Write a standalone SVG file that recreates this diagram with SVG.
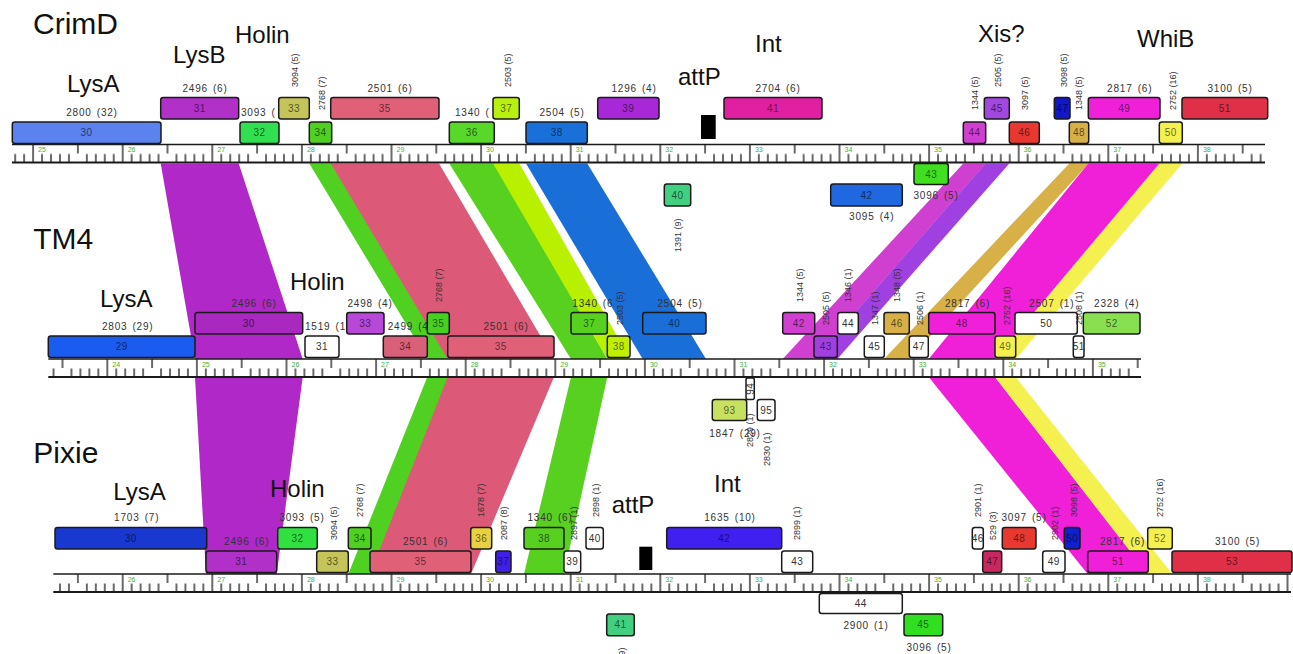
<svg xmlns="http://www.w3.org/2000/svg" width="1293" height="654" viewBox="0 0 1293 654">
<style>
text{font-family:"Liberation Sans",Arial,Helvetica,sans-serif}
.title{font-size:30px;fill:#111}
.big{font-size:24px;fill:#111}
.lab{font-size:10px;fill:#333;letter-spacing:0.8px;word-spacing:1.5px;text-anchor:middle}
.labs{font-size:10px;fill:#333;letter-spacing:0.8px;word-spacing:1.5px}
.vl{font-size:9px;fill:#333}
.gn{font-size:10px;fill:#000;fill-opacity:0.6;text-anchor:middle;letter-spacing:0.4px}
.gnw{font-size:10px;fill:#333;text-anchor:middle;letter-spacing:0.4px}
.kb{font-size:7px;fill:#3bb03b}
.box{stroke:#1a1a1a;stroke-width:1.5}
.rl{stroke:#1a1a1a;fill:none}
.band{stroke:none}
</style>
<defs>
<pattern id="tk" patternUnits="userSpaceOnUse" x="-1" y="0" width="89.6" height="18">
<path d="M1 0V18M45.8 0V9M9.96 9.5V18M18.92 9.5V18M27.88 9.5V18M36.84 9.5V18M54.76 9.5V18M63.72 9.5V18M72.68 9.5V18M81.64 9.5V18" stroke="#1a1a1a" stroke-width="1.3" fill="none"/>
</pattern>
</defs>
<rect width="1293" height="654" fill="#fff"/>

<g id="connectors">
<polygon class="band" fill="#b028c8" points="160.7,163.5 238.7,163.5 302.7,359 195,359"/>
<polygon class="band" fill="#50d020" points="309.3,163.5 331.7,163.5 449.3,359 427.3,359"/>
<polygon class="band" fill="#dc5a78" points="330.7,163.5 439,163.5 554,359 447.7,359"/>
<polygon class="band" fill="#58d020" points="449.3,163.5 494.3,163.5 607.3,359 571,359"/>
<polygon class="band" fill="#b8f000" points="493,163.5 519.3,163.5 630,359 607.3,359"/>
<polygon class="band" fill="#1a6ed8" points="526,163.5 587.3,163.5 706,359 642.7,359"/>
<polygon class="band" fill="#d040d0" points="963.3,163.5 985.7,163.5 814.7,359 782.7,359"/>
<polygon class="band" fill="#a040e0" stroke="#fff" stroke-width="1" points="985.5,163.5 1009.3,163.5 837.3,359 814.5,359"/>
<polygon class="band" fill="#d8b048" points="1069.3,163.5 1088.7,163.5 909.3,359 884,359"/>
<polygon class="band" fill="#f020d8" points="1088.3,163.5 1160,163.5 995,359 928.7,359"/>
<polygon class="band" fill="#f4f050" points="1159.3,163.5 1182.3,163.5 1015.7,359 995,359"/>
<polygon class="band" fill="#b028c8" points="195,377 302.7,377 276.7,574 206,574"/>
<polygon class="band" fill="#50d020" points="427.3,377 449.3,377 371,574 348.3,574"/>
<polygon class="band" fill="#dc5a78" points="447.7,377 554,377 471,574 370,574"/>
<polygon class="band" fill="#58d020" points="571,377 607.3,377 564,574 524,574"/>
<polygon class="band" fill="#f020d8" points="928.7,377 995,377 1148.3,574 1087.7,574"/>
<polygon class="band" fill="#f4f050" points="995,377 1015.7,377 1172.3,574 1147.7,574"/>
</g>

<g id="crimd-ruler" transform="translate(122.7,144.5)">
<rect x="-110.7" y="0" width="1253" height="18" fill="#fff"/>
<rect x="-110.7" y="0" width="1253" height="18" fill="url(#tk)"/>
<line class="rl" x1="-110.7" y1="0" x2="1142.3" y2="0" stroke-width="1.5"/>
<line class="rl" x1="-110.7" y1="18" x2="1142.3" y2="18" stroke-width="2"/>
<text class="kb" x="-84.6" y="7.5">25</text><text class="kb" x="5" y="7.5">26</text><text class="kb" x="94.6" y="7.5">27</text><text class="kb" x="184.2" y="7.5">28</text><text class="kb" x="273.8" y="7.5">29</text><text class="kb" x="363.4" y="7.5">30</text><text class="kb" x="453" y="7.5">31</text><text class="kb" x="542.6" y="7.5">32</text><text class="kb" x="632.2" y="7.5">33</text><text class="kb" x="721.8" y="7.5">34</text><text class="kb" x="811.4" y="7.5">35</text><text class="kb" x="901" y="7.5">36</text><text class="kb" x="990.6" y="7.5">37</text><text class="kb" x="1080.2" y="7.5">38</text>
</g>

<g id="tm4-ruler" transform="translate(107.3,359)">
<rect x="-59" y="0" width="1092.7" height="18" fill="#fff"/>
<rect x="-59" y="0" width="1092.7" height="18" fill="url(#tk)"/>
<line class="rl" x1="-59" y1="0" x2="1033.7" y2="0" stroke-width="1.5"/>
<line class="rl" x1="-59" y1="18" x2="1033.7" y2="18" stroke-width="2"/>
<text class="kb" x="5" y="7.5">24</text><text class="kb" x="94.6" y="7.5">25</text><text class="kb" x="184.2" y="7.5">26</text><text class="kb" x="273.8" y="7.5">27</text><text class="kb" x="363.4" y="7.5">28</text><text class="kb" x="453" y="7.5">29</text><text class="kb" x="542.6" y="7.5">30</text><text class="kb" x="632.2" y="7.5">31</text><text class="kb" x="721.8" y="7.5">32</text><text class="kb" x="811.4" y="7.5">33</text><text class="kb" x="901" y="7.5">34</text><text class="kb" x="990.6" y="7.5">35</text>
</g>

<g id="pixie-ruler" transform="translate(122.7,574)">
<rect x="-69.4" y="0" width="1237.7" height="18" fill="#fff"/>
<rect x="-69.4" y="0" width="1237.7" height="18" fill="url(#tk)"/>
<line class="rl" x1="-69.4" y1="0" x2="1168.3" y2="0" stroke-width="1.5"/>
<line class="rl" x1="-69.4" y1="18" x2="1168.3" y2="18" stroke-width="2"/>
<text class="kb" x="5" y="7.5">26</text><text class="kb" x="94.6" y="7.5">27</text><text class="kb" x="184.2" y="7.5">28</text><text class="kb" x="273.8" y="7.5">29</text><text class="kb" x="363.4" y="7.5">30</text><text class="kb" x="453" y="7.5">31</text><text class="kb" x="542.6" y="7.5">32</text><text class="kb" x="632.2" y="7.5">33</text><text class="kb" x="721.8" y="7.5">34</text><text class="kb" x="811.4" y="7.5">35</text><text class="kb" x="901" y="7.5">36</text><text class="kb" x="990.6" y="7.5">37</text><text class="kb" x="1080.2" y="7.5">38</text>
</g>

<!-- CrimD -->
<g id="crimd-titles">
<text class="title" x="33" y="34.3">CrimD</text>
<text class="big" x="67" y="91.5">LysA</text>
<text class="big" x="173" y="63.3">LysB</text>
<text class="big" x="235" y="43.3">Holin</text>
<text class="big" x="678" y="85">attP</text>
<text class="big" x="755" y="52.3">Int</text>
<text class="big" x="978" y="42.3">Xis?</text>
<text class="big" x="1137" y="46.7">WhiB</text>
</g>
<g id="crimd-attP"><rect x="701" y="115" width="14.7" height="24" fill="#000"/></g>
<g id="crimd-30"><rect class="box" x="12.3" y="122" width="148.7" height="21.5" rx="2.5" fill="#5b82ee"/><text class="gn" x="86.5" y="136.2">30</text><text class="lab" x="92" y="115.5">2800 (32)</text></g>
<g id="crimd-31"><rect class="box" x="160.7" y="97.5" width="78" height="21.5" rx="2.5" fill="#b030c8"/><text class="gn" x="199.7" y="111.7">31</text><text class="lab" x="205" y="91.5">2496 (6)</text></g>
<g id="crimd-32"><text class="labs" x="241" y="115.5">3093 (</text><rect class="box" x="240" y="122" width="39" height="21.5" rx="2.5" fill="#30e050"/><text class="gn" x="259.5" y="136.2">32</text></g>
<g id="crimd-33"><rect class="box" x="278.7" y="97.5" width="30.6" height="21.5" rx="2.5" fill="#c4c45a"/><text class="gn" x="294" y="111.7">33</text><text class="vl" transform="translate(298.3,87) rotate(-90)">3094 (5)</text></g>
<g id="crimd-34"><rect class="box" x="309.3" y="122" width="22.4" height="21.5" rx="2.5" fill="#50d020"/><text class="gn" x="320.5" y="136.2">34</text><text class="vl" transform="translate(325,110) rotate(-90)">2768 (7)</text></g>
<g id="crimd-35"><rect class="box" x="330.7" y="97.5" width="108.3" height="21.5" rx="2.5" fill="#e06078"/><text class="gn" x="384.8" y="111.7">35</text><text class="lab" x="390" y="91.5">2501 (6)</text></g>
<g id="crimd-36"><text class="labs" x="455" y="115.5">1340 (</text><rect class="box" x="449.3" y="122" width="45" height="21.5" rx="2.5" fill="#58d828"/><text class="gn" x="471.8" y="136.2">36</text></g>
<g id="crimd-37"><rect class="box" x="493" y="97.5" width="26.3" height="21.5" rx="2.5" fill="#b8f010"/><text class="gn" x="506.2" y="111.7">37</text><text class="vl" transform="translate(511,87) rotate(-90)">2503 (5)</text></g>
<g id="crimd-38"><rect class="box" x="526" y="122" width="61.3" height="21.5" rx="2.5" fill="#1870d8"/><text class="gn" x="556.7" y="136.2">38</text><text class="lab" x="562" y="115.5">2504 (5)</text></g>
<g id="crimd-39"><rect class="box" x="597.7" y="97.5" width="61.3" height="21.5" rx="2.5" fill="#a828d8"/><text class="gn" x="628.3" y="111.7">39</text><text class="lab" x="634" y="91.5">1296 (4)</text></g>
<g id="crimd-40"><rect class="box" x="664.3" y="184" width="26.4" height="22" rx="2.5" fill="#40d080"/><text class="gn" x="677.5" y="198.5">40</text><text class="vl" transform="translate(681.3,252) rotate(-90)">1391 (9)</text></g>
<g id="crimd-41"><rect class="box" x="724" y="97.5" width="98" height="21.5" rx="2.5" fill="#e020a0"/><text class="gn" x="773" y="111.7">41</text><text class="lab" x="778" y="91.5">2704 (6)</text></g>
<g id="crimd-42"><rect class="box" x="830.7" y="184" width="71.6" height="22" rx="2.5" fill="#2068e0"/><text class="gn" x="866.5" y="198.5">42</text><text class="lab" x="871.7" y="220">3095 (4)</text></g>
<g id="crimd-43"><rect class="box" x="914" y="163.5" width="34.3" height="21" rx="2.5" fill="#40e020"/><text class="gn" x="931.2" y="177.5">43</text><text class="lab" x="936" y="199">3096 (5)</text></g>
<g id="crimd-44"><rect class="box" x="963.3" y="122" width="22.4" height="21.5" rx="2.5" fill="#d040d0"/><text class="gn" x="974.5" y="136.2">44</text><text class="vl" transform="translate(978.3,110) rotate(-90)">1344 (5)</text></g>
<g id="crimd-45"><rect class="box" x="984.3" y="97.5" width="25" height="21.5" rx="2.5" fill="#a048e0"/><text class="gn" x="996.8" y="111.7">45</text><text class="vl" transform="translate(1001.3,87) rotate(-90)">2505 (5)</text></g>
<g id="crimd-46"><rect class="box" x="1009.3" y="122" width="30" height="21.5" rx="2.5" fill="#e83830"/><text class="gn" x="1024.3" y="136.2">46</text><text class="vl" transform="translate(1028.3,110) rotate(-90)">3097 (5)</text></g>
<g id="crimd-47"><rect class="box" x="1054.3" y="97.5" width="15.7" height="21.5" rx="2.5" fill="#1018c8"/><text class="gn" x="1062.2" y="111.7">47</text><text class="vl" transform="translate(1067.3,87) rotate(-90)">3098 (5)</text></g>
<g id="crimd-48"><rect class="box" x="1069.3" y="122" width="19.4" height="21.5" rx="2.5" fill="#d8b048"/><text class="gn" x="1079" y="136.2">48</text><text class="vl" transform="translate(1082.3,110) rotate(-90)">1348 (5)</text></g>
<g id="crimd-49"><rect class="box" x="1088.3" y="97.5" width="71.7" height="21.5" rx="2.5" fill="#f020d8"/><text class="gn" x="1124.2" y="111.7">49</text><text class="lab" x="1129.7" y="91.5">2817 (6)</text></g>
<g id="crimd-50"><rect class="box" x="1159.3" y="122" width="23" height="21.5" rx="2.5" fill="#f4f050"/><text class="gn" x="1170.8" y="136.2">50</text><text class="vl" transform="translate(1176.3,110) rotate(-90)">2752 (16)</text></g>
<g id="crimd-51"><rect class="box" x="1182" y="97.5" width="85.7" height="21.5" rx="2.5" fill="#e03048"/><text class="gn" x="1224.8" y="111.7">51</text><text class="lab" x="1230" y="91.5">3100 (5)</text></g>

<!-- TM4 -->
<g id="tm4-titles">
<text class="title" x="33.3" y="249">TM4</text>
<text class="big" x="100" y="306.7">LysA</text>
<text class="big" x="290" y="290">Holin</text>
</g>
<g id="tm4-29"><rect class="box" x="48.3" y="336" width="146.7" height="21.5" rx="2.5" fill="#1a5cf0"/><text class="gn" x="121.7" y="350.2">29</text><text class="lab" x="127.7" y="330">2803 (29)</text></g>
<g id="tm4-30"><rect class="box" x="195" y="312.5" width="107.7" height="21.5" rx="2.5" fill="#a828c0"/><text class="gn" x="248.8" y="326.7">30</text><text class="lab" x="254" y="306.5">2496 (6)</text></g>
<g id="tm4-31"><text class="labs" x="305" y="330">1519 (1</text><rect class="box" x="305" y="336" width="34" height="21.5" rx="2.5" fill="#fff"/><text class="gnw" x="322" y="350.2">31</text></g>
<g id="tm4-33"><rect class="box" x="346.7" y="312.5" width="37.3" height="21.5" rx="2.5" fill="#b848d8"/><text class="gn" x="365.3" y="326.7">33</text><text class="lab" x="370" y="306.5">2498 (4)</text></g>
<g id="tm4-34"><text class="labs" x="387.7" y="330">2499 (4</text><rect class="box" x="383.3" y="336" width="44" height="21.5" rx="2.5" fill="#d86078"/><text class="gn" x="405.3" y="350.2">34</text></g>
<g id="tm4-35a"><rect class="box" x="427.3" y="312.5" width="22" height="21.5" rx="2.5" fill="#48d020"/><text class="gn" x="438.3" y="326.7">35</text><text class="vl" transform="translate(441.6,302) rotate(-90)">2768 (7)</text></g>
<g id="tm4-35b"><rect class="box" x="447.7" y="336" width="106.3" height="21.5" rx="2.5" fill="#e06078"/><text class="gn" x="500.8" y="350.2">35</text><text class="lab" x="506" y="330">2501 (6)</text></g>
<g id="tm4-37"><text class="labs" x="572.3" y="306.5">1340 (6</text><rect class="box" x="571" y="312.5" width="36.3" height="21.5" rx="2.5" fill="#58d020"/><text class="gn" x="589.2" y="326.7">37</text></g>
<g id="tm4-38"><rect class="box" x="607.3" y="336" width="22.7" height="21.5" rx="2.5" fill="#c0f000"/><text class="gn" x="618.7" y="350.2">38</text><text class="vl" transform="translate(623.3,325) rotate(-90)">2503 (5)</text></g>
<g id="tm4-40"><rect class="box" x="642.7" y="312.5" width="63.3" height="21.5" rx="2.5" fill="#1a6ed8"/><text class="gn" x="674.3" y="326.7">40</text><text class="lab" x="680" y="306.5">2504 (5)</text></g>
<g id="tm4-42"><rect class="box" x="782.7" y="312.5" width="32" height="21.5" rx="2.5" fill="#d040d0"/><text class="gn" x="798.7" y="326.7">42</text><text class="vl" transform="translate(802.6,302) rotate(-90)">1344 (5)</text></g>
<g id="tm4-43"><rect class="box" x="814" y="336" width="23.3" height="21.5" rx="2.5" fill="#a040e0"/><text class="gn" x="825.7" y="350.2">43</text><text class="vl" transform="translate(829,325) rotate(-90)">2505 (5)</text></g>
<g id="tm4-44"><rect class="box" x="837.7" y="312.5" width="20.6" height="21.5" rx="2.5" fill="#fff"/><text class="gnw" x="848" y="326.7">44</text><text class="vl" transform="translate(850.6,302) rotate(-90)">1346 (1)</text></g>
<g id="tm4-45"><rect class="box" x="864.3" y="336" width="20" height="21.5" rx="2.5" fill="#fff"/><text class="gnw" x="874.3" y="350.2">45</text><text class="vl" transform="translate(878.3,325) rotate(-90)">1347 (1)</text></g>
<g id="tm4-46"><rect class="box" x="884" y="312.5" width="25.3" height="21.5" rx="2.5" fill="#d8b048"/><text class="gn" x="896.7" y="326.7">46</text><text class="vl" transform="translate(900,302) rotate(-90)">1348 (5)</text></g>
<g id="tm4-47"><rect class="box" x="909.3" y="336" width="19" height="21.5" rx="2.5" fill="#fff"/><text class="gnw" x="918.8" y="350.2">47</text><text class="vl" transform="translate(923.3,325) rotate(-90)">2506 (1)</text></g>
<g id="tm4-48"><rect class="box" x="928.7" y="312.5" width="66.3" height="21.5" rx="2.5" fill="#f020d8"/><text class="gn" x="961.8" y="326.7">48</text><text class="lab" x="967.5" y="306.5">2817 (6)</text></g>
<g id="tm4-49"><rect class="box" x="995" y="336" width="20.7" height="21.5" rx="2.5" fill="#f4f050"/><text class="gn" x="1005.3" y="350.2">49</text><text class="vl" transform="translate(1010,325) rotate(-90)">2752 (16)</text></g>
<g id="tm4-50"><rect class="box" x="1015" y="312.5" width="62.3" height="21.5" rx="2.5" fill="#fff"/><text class="gnw" x="1046.2" y="326.7">50</text><text class="lab" x="1051.7" y="306.5">2507 (1)</text></g>
<g id="tm4-51"><rect class="box" x="1073.3" y="336" width="10.7" height="21.5" rx="2.5" fill="#fff"/><text class="gnw" x="1078.7" y="350.2" letter-spacing="-0.5">51</text><text class="vl" transform="translate(1081.6,325) rotate(-90)">2508 (1)</text></g>
<g id="tm4-52"><rect class="box" x="1083.3" y="312.5" width="56.7" height="21.5" rx="2.5" fill="#88e050"/><text class="gn" x="1111.7" y="326.7">52</text><text class="lab" x="1116.7" y="306.5">2328 (4)</text></g>
<g id="tm4-94"><rect class="box" x="746" y="378" width="8.3" height="21.5" rx="2" fill="#fff"/><text class="gnw" transform="translate(753.5,388.7) rotate(-90)" font-size="8">94</text></g>
<g id="tm4-93"><rect class="box" x="712.3" y="399.5" width="34.4" height="21" rx="2.5" fill="#c8e060"/><text class="gn" x="729.5" y="413.5">93</text><text class="lab" x="735" y="436.5">1847 (29)</text></g>
<g id="tm4-95"><rect class="box" x="757.3" y="399.5" width="17.7" height="21" rx="2.5" fill="#fff"/><text class="gnw" x="766.2" y="413.5">95</text></g>
<g id="tm4-vlabels"><text class="vl" transform="translate(753.3,447) rotate(-90)">2829 (1)</text><text class="vl" transform="translate(770.3,466) rotate(-90)">2830 (1)</text></g>

<!-- Pixie -->
<g id="pixie-titles">
<text class="title" x="33.3" y="463.3">Pixie</text>
<text class="big" x="113.3" y="500">LysA</text>
<text class="big" x="270" y="496.7">Holin</text>
<text class="big" x="611.7" y="513.3">attP</text>
<text class="big" x="714" y="491.7">Int</text>
</g>
<g id="pixie-attP"><rect x="639.3" y="546.7" width="13" height="23.3" fill="#000"/></g>
<g id="pixie-30"><rect class="box" x="55" y="527.5" width="151.7" height="21.5" rx="2.5" fill="#1838d0"/><text class="gn" x="130.8" y="541.7">30</text><text class="lab" x="136.7" y="520.5">1703 (7)</text></g>
<g id="pixie-31"><rect class="box" x="206" y="551" width="70.7" height="21.5" rx="2.5" fill="#b030c8"/><text class="gn" x="241.3" y="565.2">31</text><text class="lab" x="246.7" y="545">2496 (6)</text></g>
<g id="pixie-32"><rect class="box" x="277.7" y="527.5" width="39.6" height="21.5" rx="2.5" fill="#30e040"/><text class="gn" x="297.5" y="541.7">32</text><text class="lab" x="302" y="520.5">3093 (5)</text></g>
<g id="pixie-33"><rect class="box" x="316.7" y="551" width="31.6" height="21.5" rx="2.5" fill="#c4c45a"/><text class="gn" x="332.5" y="565.2">33</text><text class="vl" transform="translate(337.3,540) rotate(-90)">3094 (5)</text></g>
<g id="pixie-34"><rect class="box" x="348.3" y="527.5" width="22.7" height="21.5" rx="2.5" fill="#50d020"/><text class="gn" x="359.7" y="541.7">34</text><text class="vl" transform="translate(362.6,517) rotate(-90)">2768 (7)</text></g>
<g id="pixie-35"><rect class="box" x="370" y="551" width="101" height="21.5" rx="2.5" fill="#e06078"/><text class="gn" x="420.5" y="565.2">35</text><text class="lab" x="425.5" y="545">2501 (6)</text></g>
<g id="pixie-36"><rect class="box" x="470.7" y="527.5" width="21" height="21.5" rx="2.5" fill="#e8d040"/><text class="gn" x="481.2" y="541.7">36</text><text class="vl" transform="translate(484.3,517) rotate(-90)">1678 (7)</text></g>
<g id="pixie-37"><rect class="box" x="495.7" y="551" width="15.3" height="21.5" rx="2.5" fill="#4020e8"/><text class="gn" x="503.3" y="565.2">37</text><text class="vl" transform="translate(506.6,540) rotate(-90)">2087 (8)</text></g>
<g id="pixie-38"><rect class="box" x="524" y="527.5" width="40" height="21.5" rx="2.5" fill="#58d020"/><text class="gn" x="544" y="541.7">38</text><text class="lab" x="550" y="520.5">1340 (6)</text></g>
<g id="pixie-39"><rect class="box" x="564" y="551" width="16.7" height="21.5" rx="2.5" fill="#fff"/><text class="gnw" x="572.3" y="565.2">39</text><text class="vl" transform="translate(576.6,540) rotate(-90)">2897 (1)</text></g>
<g id="pixie-40"><rect class="box" x="586" y="527.5" width="17.3" height="21.5" rx="2.5" fill="#fff"/><text class="gnw" x="594.7" y="541.7">40</text><text class="vl" transform="translate(599,517) rotate(-90)">2898 (1)</text></g>
<g id="pixie-41"><rect class="box" x="606.7" y="614" width="27.6" height="21.7" rx="2.5" fill="#40d080"/><text class="gn" x="620.5" y="628.3">41</text><text class="vl" transform="translate(625.3,681) rotate(-90)">1391 (9)</text></g>
<g id="pixie-42"><rect class="box" x="666.7" y="527.5" width="115" height="21.5" rx="2.5" fill="#4020f0"/><text class="gn" x="724.2" y="541.7">42</text><text class="lab" x="730" y="520.5">1635 (10)</text></g>
<g id="pixie-43"><rect class="box" x="781.7" y="551" width="31" height="21.5" rx="2.5" fill="#fff"/><text class="gnw" x="797.2" y="565.2">43</text><text class="vl" transform="translate(800,540) rotate(-90)">2899 (1)</text></g>
<g id="pixie-44"><rect class="box" x="819.3" y="593.5" width="83" height="20" rx="2.5" fill="#fff"/><text class="gnw" x="860.8" y="607">44</text><text class="lab" x="866" y="629">2900 (1)</text></g>
<g id="pixie-45"><rect class="box" x="904" y="614" width="38.7" height="21.7" rx="2.5" fill="#30e020"/><text class="gn" x="923.3" y="628.3">45</text><text class="lab" x="929" y="650.5">3096 (5)</text></g>
<g id="pixie-46"><rect class="box" x="972.3" y="527.5" width="11" height="21.5" rx="2.5" fill="#fff"/><text class="gnw" x="977.8" y="541.7" letter-spacing="-0.5">46</text><text class="vl" transform="translate(980.6,517) rotate(-90)">2901 (1)</text></g>
<g id="pixie-47"><rect class="box" x="982.7" y="551" width="19" height="21.5" rx="2.5" fill="#c82860"/><text class="gn" x="992.2" y="565.2">47</text><text class="vl" transform="translate(995.6,540) rotate(-90)">529 (3)</text></g>
<g id="pixie-48"><rect class="box" x="1002.3" y="527.5" width="33.7" height="21.5" rx="2.5" fill="#e83830"/><text class="gn" x="1019.2" y="541.7">48</text><text class="lab" x="1024" y="520.5">3097 (5)</text></g>
<g id="pixie-49"><rect class="box" x="1042.7" y="551" width="22.3" height="21.5" rx="2.5" fill="#fff"/><text class="gnw" x="1053.8" y="565.2">49</text><text class="vl" transform="translate(1058.3,540) rotate(-90)">2902 (1)</text></g>
<g id="pixie-50"><rect class="box" x="1064.3" y="527.5" width="15.7" height="21.5" rx="2.5" fill="#1020d0"/><text class="gn" x="1072.2" y="541.7">50</text><text class="vl" transform="translate(1076.6,517) rotate(-90)">3098 (5)</text></g>
<g id="pixie-51"><rect class="box" x="1087.7" y="551" width="60.6" height="21.5" rx="2.5" fill="#f020d8"/><text class="gn" x="1118" y="565.2">51</text><text class="lab" x="1122.5" y="545">2817 (6)</text></g>
<g id="pixie-52"><rect class="box" x="1147.7" y="527.5" width="24.6" height="21.5" rx="2.5" fill="#f4f050"/><text class="gn" x="1160" y="541.7">52</text><text class="vl" transform="translate(1163.3,517) rotate(-90)">2752 (16)</text></g>
<g id="pixie-53"><rect class="box" x="1172" y="551" width="120" height="21.5" rx="2.5" fill="#e03048"/><text class="gn" x="1232" y="565.2">53</text><text class="lab" x="1237.5" y="545">3100 (5)</text></g>
</svg>
